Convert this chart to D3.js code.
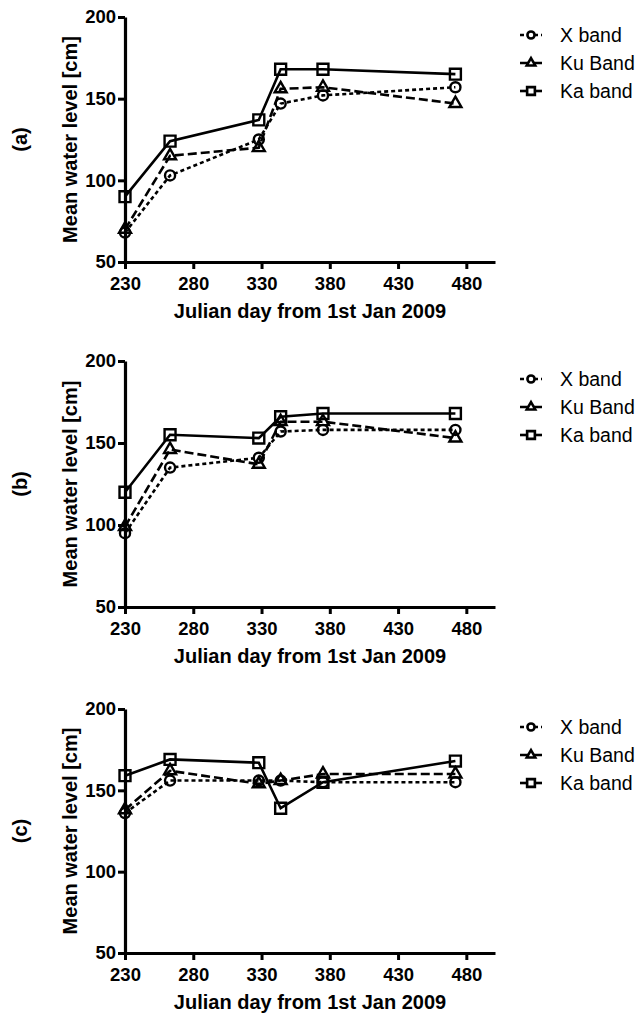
<!DOCTYPE html>
<html>
<head>
<meta charset="utf-8">
<script src="https://cdn.jsdelivr.net/npm/d3@7"></script>
<style>
  body { margin: 0; background: #fff; }
  text { font-family: Arial, "Liberation Sans", sans-serif; }
</style>
</head>
<body>
<svg id="chart" width="637" height="1013"></svg>
<script>
// DATA
const days = [230, 263, 328, 344, 375, 472];
const bands = ["X band", "Ku Band", "Ka band"];
const panelLabels = ["(a)", "(b)", "(c)"];
const xTicks = [230, 280, 330, 380, 430, 480];
const yTicks = [50, 100, 150, 200];

const xBandA = [68, 103, 125, 147, 152, 157];
const kuBandA = [70, 115, 120, 156, 157, 147];
const kaBandA = [90, 124, 137, 168, 168, 165];

const xBandB = [95, 135, 141, 157, 158, 158];
const kuBandB = [99, 146, 137, 163, 163, 153];
const kaBandB = [120, 155, 153, 166, 168, 168];

const xBandC = [136, 156, 156, 156, 155, 155];
const kuBandC = [138, 162, 154, 156, 160, 160];
const kaBandC = [159, 169, 167, 139, 155, 168];

const panels = [
  { label: panelLabels[0], series: [xBandA, kuBandA, kaBandA], top: 17, bottom: 262 },
  { label: panelLabels[1], series: [xBandB, kuBandB, kaBandB], top: 361, bottom: 607 },
  { label: panelLabels[2], series: [xBandC, kuBandC, kaBandC], top: 709, bottom: 953 },
];

// STYLE
const dashes = ["4,3", "9,4", null];
const symbols = [d3.symbolCircle, d3.symbolTriangle, d3.symbolSquare];
const symSize = [80, 62, 120];
const lw = 2.6;

const svg = d3.select("#chart");

const x = d3.scaleLinear().domain([230, 501]).range([125, 495]);

panels.forEach((p) => {
  const y = d3.scaleLinear().domain([50, 200]).range([p.bottom, p.top]);
  const g = svg.append("g");

  // axes
  const gx = g.append("g")
    .attr("transform", `translate(0,${p.bottom})`)
    .call(d3.axisBottom(x).tickValues(xTicks).tickSize(7).tickPadding(8).tickSizeOuter(0));
  const gy = g.append("g")
    .attr("transform", `translate(${x(230)},0)`)
    .call(d3.axisLeft(y).tickValues(yTicks).tickSize(7).tickPadding(2).tickSizeOuter(0));

  [gx, gy].forEach((ax) => {
    ax.select(".domain").attr("stroke-width", 3.2).attr("stroke", "#000");
    ax.selectAll(".tick line").attr("stroke-width", 3).attr("stroke", "#000");
    ax.selectAll(".tick text")
      .attr("fill", "#000")
      .style("font-size", "18.5px")
      .style("font-weight", "bold");
  });

  // axis titles
  g.append("text")
    .attr("x", (x(230) + x(501)) / 2)
    .attr("y", p.bottom + 49)
    .attr("text-anchor", "middle")
    .attr("dominant-baseline", "central")
    .style("font-size", "20px")
    .style("font-weight", "bold")
    .text("Julian day from 1st Jan 2009");

  g.append("text")
    .attr("transform", `translate(70,${(p.top + p.bottom) / 2}) rotate(-90)`)
    .attr("text-anchor", "middle")
    .attr("dominant-baseline", "central")
    .style("font-size", "20px")
    .style("font-weight", "bold")
    .text("Mean water level [cm]");

  g.append("text")
    .attr("transform", `translate(20,${(p.top + p.bottom) / 2}) rotate(-90)`)
    .attr("text-anchor", "middle")
    .attr("dominant-baseline", "central")
    .style("font-size", "20px")
    .style("font-weight", "bold")
    .text(p.label);

  // lines + markers
  const line = d3.line().x((d) => x(d[0])).y((d) => y(d[1]));

  p.series.forEach((vals, i) => {
    const pts = days.map((d, j) => [d, vals[j]]);
    g.append("path")
      .datum(pts)
      .attr("d", line)
      .attr("fill", "none")
      .attr("stroke", "#000")
      .attr("stroke-width", lw)
      .attr("stroke-dasharray", dashes[i]);

    g.selectAll(null)
      .data(pts)
      .join("path")
      .attr("transform", (d) => `translate(${x(d[0])},${y(d[1])})`)
      .attr("d", d3.symbol(symbols[i], symSize[i]))
      .attr("fill", "none")
      .attr("stroke", "#000")
      .attr("stroke-width", 2.4);
  });

  // legend
  bands.forEach((name, i) => {
    const ly = p.top + 18 + i * 28;
    const lg = g.append("g").attr("transform", `translate(0,${ly})`);
    lg.append("line")
      .attr("x1", 520).attr("x2", 542)
      .attr("stroke", "#000")
      .attr("stroke-width", lw)
      .attr("stroke-dasharray", dashes[i]);
    lg.append("path")
      .attr("transform", "translate(531,0)")
      .attr("d", d3.symbol(symbols[i], symSize[i] * 0.5))
      .attr("fill", "#fff")
      .attr("stroke", "#000")
      .attr("stroke-width", 2.6);
    lg.append("text")
      .attr("x", 560)
      .attr("dominant-baseline", "central")
      .style("font-size", "19.5px")
      .text(name);
  });
});
</script>
</body>
</html>
